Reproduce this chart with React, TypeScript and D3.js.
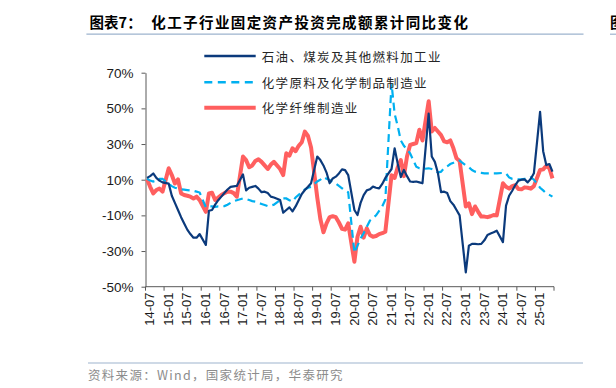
import React, { useEffect, useRef } from "react";
import * as d3 from "d3";

// monthly categories 2014-07 .. 2025-06 (Jan is not published, kept as null)
const months = d3
  .timeMonth.range(new Date(2014, 6, 1), new Date(2025, 6, 1))
  .map(d3.timeFormat("%y-%m"));

const yTicks = [-50, -30, -10, 10, 30, 50, 70];

const seriesNames = ["石油、煤炭及其他燃料加工业", "化学原料及化学制品制造业", "化学纤维制造业"];

// 石油、煤炭及其他燃料加工业
const petroleum = [
  11, 12, 13.5, 11, 9.5, 8.5,
  null, 7.8, 1, -3, -7, -11, -14.5, -18, -20.5, -22.5, -22.5, -20.5,
  null, -26.6, -7.4, -7, -4, -1.5, 0.5, 2.5, 4.5, 6, 6.3, 6.5,
  null, 13, 4, 5.5, 6, 6.5, 5, 3, 3.3, 2.5, 0.5, 0,
  null, -1.4, -8.5, -7, -5.5, -7.8, -5, -1.5, 2, 4.2, 6, 8,
  null, 23, 21, 18, 14, 8, 10.7, 11.7, 13.5, 15.8, 15.4, 12.6,
  null, -7, -9.8, -3, 1.4, 4, 4.6, 6.1, 5.5, 5.1, 7.6, 11,
  null, 16, 27.6, 19, 11.5, 15.5, 12, 9, 8.8, 9, 8.5, 8,
  null, 47, 23, 20, 13.6, 3, 3.3, 2.5, -2, -4, -7, -10,
  null, -42, -27, -26, -26, -26.2, -26, -24, -21, -20.2, -19.5, -18.6,
  null, -25, -4.5, 1, 3.8, 7, 9.5, 10, 10.2, 8.5, 10.5, 13.6,
  null, 48, 26, 18.2, 18.8, 14.5,
];

// 化学原料及化学制品制造业
const chemicals = [
  10.5, 9.5, 9, 9.5, 10.5, 10.5,
  null, 7.6, 6.4, 5.5, 5, 4.6, 4.4, 4.2, 4, 3.8, 3.3, 2.8,
  null, -5.5, -5, -5, -5.2, -5, -5, -4.8, -4, -3, -2, -1.5,
  null, -0.5, -0.8, -1.4, -2, -2.3, -3, -3.6, -4.2, -4.8, -4.5, -4,
  null, -1.5, -0.5, -0.5, -1.5, -2.3, 0, 1.5, 3, 4.5, 5.5, 6,
  null, 9, 10, 11.5, 10.5, 9.8, 8.5, 7.9, 6.5, 5.2, 4, 3,
  null, -31, -27, -23, -20, -16.5, -13, -11.5, -10, -7.5, -5, -1.2,
  null, 64, 47, 40, 32, 29, 27, 24.8, 21, 17.3, 16.4, 16,
  null, 16.4, 16, 15.4, 14, 14.5, 16.4, 17.5, 18.8, 19.5, 20.5, 20.7,
  null, 18, 17, 15.4, 14.5, 14, 13.8, 13.6, 13.6, 13.6, 13.6, 13.6,
  null, 13.8, 13.5, 11.3, 10.5, 10.3, 10.2, 10.2, 10.5, 10.5, 11.3, 10,
  null, 5.5, 4, 2.3, 1.5, 0.5,
];

// 化学纤维制造业
const fibers = [
  10.2, 6, 2.3, 4.2, 5, 3.3,
  null, 16.4, 12.6, 7.9, 10.2, 2.3, 1.4, 1, 0.5, -0.5, 0.5, -1.4,
  null, -8, 2.3, 2.7, -1.4, 0, 1.4, 2.5, 3.3, 3.3, 2.5, 0.5,
  null, 23, 21, 17, 18, 20.5, 21.5, 20, 18, 16, 18.5, 20,
  null, 16, 12.6, 24.8, 23.5, 27.6, 26, 29, 31, 37, 34.5, 28,
  null, 0, -12, -19.5, -14.5, -11, -10.5, -11, -14, -17.5, -18, -14.5,
  null, -36, -22, -16.4, -22.5, -17.3, -21, -22, -21.6, -20.5, -20, -19.2,
  null, 12.5, 11, 17, 21, 12, 23, 29.5, 30, 30.5, 38, 32,
  null, 54, 37, 39, 37, 35, 31.5, 31, 32, 27.6, 22, 20.5,
  null, -5, -3.3, -9.3, -5, -8, -10.7, -10.7, -11, -10.5, -9.8, -10,
  null, 8, 6, 5, 6.4, 7, 4.8, 4.6, 5.7, 5.5, 5, 6.4,
  null, 15.4, 15.8, 17.7, 16.4, 10.7,
];

const cjk = "'Noto Sans CJK SC', sans-serif";
const latin = "'Liberation Sans', Arial, sans-serif";

export default function App() {
  const ref = useRef<SVGSVGElement>(null);

  useEffect(() => {
    const svg = d3.select(ref.current);
    svg.selectAll("*").remove();

    const x = d3.scaleBand<string>().domain(months).range([145.5, 554]).padding(0);
    const y = d3.scaleLinear().domain([-50, 70]).range([286.7, 72.7]);
    const cx = (m: string) => (x(m) as number) + x.bandwidth() / 2;

    // title
    svg.append("text").attr("x", 89.6).attr("y", 28).attr("font-family", cjk)
      .attr("font-size", 14.5).attr("font-weight", "bold").attr("fill", "#000")
      .text("图表7：");
    svg.append("text").attr("x", 151.3).attr("y", 28).attr("font-family", cjk)
      .attr("font-size", 14.5).attr("font-weight", "bold").attr("letter-spacing", 1.4)
      .attr("fill", "#000").text("化工子行业固定资产投资完成额累计同比变化");
    svg.append("line").attr("x1", 86.4).attr("x2", 583.5).attr("y1", 34.2).attr("y2", 34.2)
      .attr("stroke", "#9db3ce").attr("stroke-width", 1.2);
    // edge of the neighbouring chart
    svg.append("text").attr("x", 610).attr("y", 28).attr("font-family", cjk)
      .attr("font-size", 14.5).attr("font-weight", "bold").text("图");
    svg.append("line").attr("x1", 610).attr("x2", 616).attr("y1", 34.2).attr("y2", 34.2)
      .attr("stroke", "#9db3ce").attr("stroke-width", 1.2);

    // y axis
    const yAxis = svg.append("g").attr("transform", "translate(145.5,0)")
      .call(d3.axisLeft(y).tickValues(yTicks).tickFormat((d) => d + "%")
        .tickSize(4).tickSizeOuter(0).tickPadding(8));
    yAxis.select(".domain").attr("stroke", "#595959");
    yAxis.selectAll(".tick line").attr("stroke", "#595959");
    yAxis.selectAll("text").attr("font-family", latin).attr("font-size", 13.5).attr("fill", "#1a1a1a");

    // x axis
    const xa = svg.append("g");
    xa.append("line").attr("x1", 145.5).attr("x2", 554).attr("y1", y(-50)).attr("y2", y(-50))
      .attr("stroke", "#595959");
    const labelled = months.filter((_, i) => i % 6 === 0);
    xa.selectAll("line.tk").data([...labelled.map((m) => x(m) as number), x.range()[1]])
      .enter().append("line").attr("class", "tk")
      .attr("x1", (d) => d).attr("x2", (d) => d)
      .attr("y1", y(-50)).attr("y2", y(-50) + 4).attr("stroke", "#595959");
    xa.selectAll("text").data(labelled).enter().append("text")
      .attr("transform", (m) => `translate(${(x(m) as number) + 4.3},292.5) rotate(-90)`)
      .attr("text-anchor", "end").attr("dominant-baseline", "central")
      .attr("font-family", latin).attr("font-size", 13).attr("fill", "#1a1a1a")
      .text((m) => m);

    // series
    const line = d3.line<[string, number]>().x((d) => cx(d[0])).y((d) => y(d[1]));
    const pts = (vals: (number | null)[]) =>
      months.map((m, i) => [m, vals[i]] as [string, number | null])
        .filter((d) => d[1] != null) as [string, number][];

    svg.append("path").datum(pts(fibers)).attr("d", line).attr("fill", "none")
      .attr("stroke", "#ff5f5f").attr("stroke-width", 4).attr("stroke-linejoin", "round");
    svg.append("path").datum(pts(chemicals)).attr("d", line).attr("fill", "none")
      .attr("stroke", "#00b0f0").attr("stroke-width", 2.2).attr("stroke-dasharray", "8,5");
    svg.append("path").datum(pts(petroleum)).attr("d", line).attr("fill", "none")
      .attr("stroke", "#0b3a7c").attr("stroke-width", 2.2).attr("stroke-linejoin", "round");

    // legend
    const legendStyles = [
      { color: "#0b3a7c", width: 2.4, dash: null },
      { color: "#00b0f0", width: 2.4, dash: "8,5.5" },
      { color: "#ff5f5f", width: 4, dash: null },
    ];
    const legendY = [56, 82.3, 107.7];
    const lg = svg.append("g");
    seriesNames.forEach((name, i) => {
      const s = legendStyles[i];
      lg.append("line").attr("x1", 204.3).attr("x2", 255.7)
        .attr("y1", legendY[i]).attr("y2", legendY[i])
        .attr("stroke", s.color).attr("stroke-width", s.width)
        .attr("stroke-dasharray", s.dash);
      lg.append("text").attr("x", 261.7).attr("y", legendY[i])
        .attr("dominant-baseline", "central").attr("font-family", cjk)
        .attr("font-size", 12.5).attr("letter-spacing", 1.35).attr("fill", "#262626")
        .text(name);
    });

    // source
    svg.append("line").attr("x1", 88).attr("x2", 583).attr("y1", 363).attr("y2", 363)
      .attr("stroke", "#9db3ce").attr("stroke-width", 1.2);
    svg.append("text").attr("x", 88).attr("y", 374.5).attr("dominant-baseline", "central")
      .attr("font-family", cjk).attr("font-size", 12.5).attr("letter-spacing", 1.3)
      .attr("fill", "#8c8c8c").text("资料来源：Wind，国家统计局，华泰研究");
  }, []);

  return (
    <svg
      ref={ref}
      width={616}
      height={388}
      style={{ position: "absolute", left: 0, top: 0, background: "#fff" }}
    />
  );
}
